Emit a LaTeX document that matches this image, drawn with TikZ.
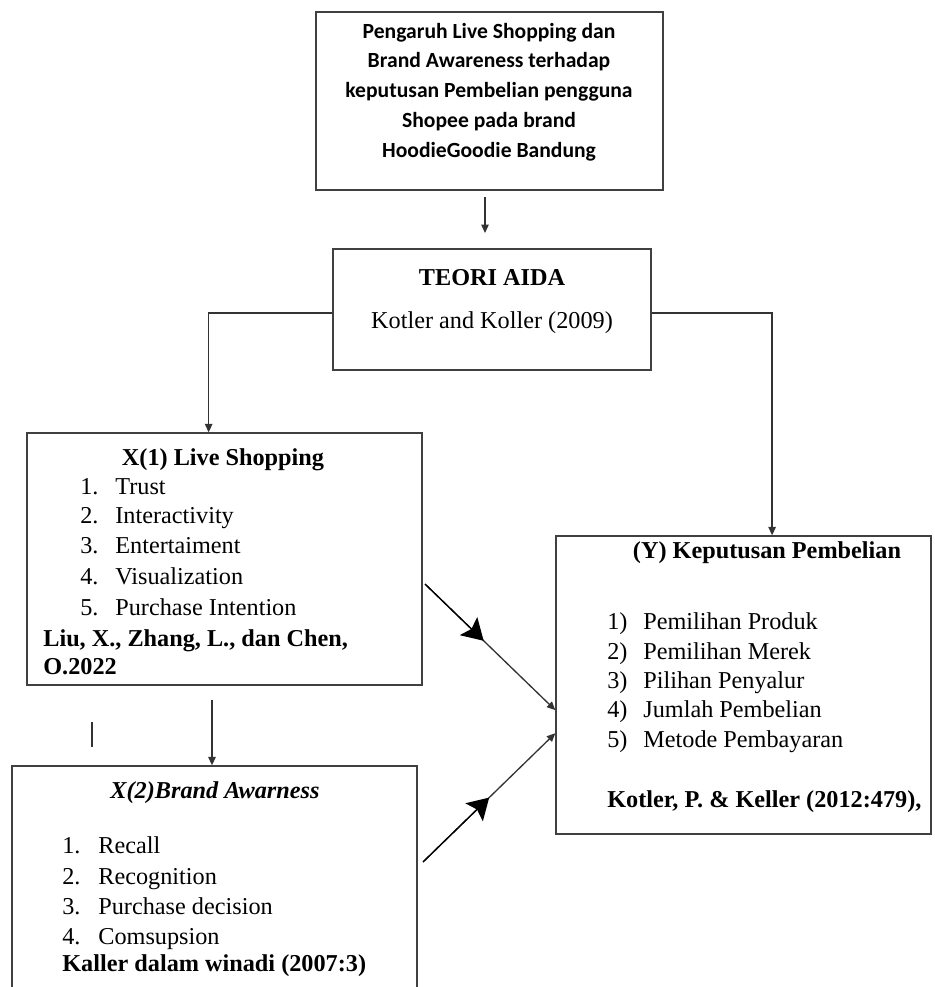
\documentclass[tikz,border=0pt]{standalone}
\usepackage{fontspec}
\setmainfont{Liberation Serif}
\newfontfamily\calibri{Carlito}
\usetikzlibrary{arrows.meta,positioning,calc}

\tikzset{
  kotak/.style={draw=black!75, line width=0.8pt, inner sep=0pt},
  tulisan/.style={inner sep=0pt, font=\fontsize{13.8}{17}\selectfont},
  tebal/.style={inner sep=0pt, font=\fontsize{13.8}{17}\selectfont\bfseries},
  butir/.style={tulisan, anchor=west, text height=1.6ex, text depth=0.4ex},
  sumber/.style={tebal, anchor=west, text height=1.6ex, text depth=0.4ex},
  panah/.style={draw=black!80, line width=0.75pt, -{Triangle[length=0.17cm,width=0.15cm]}},
  panahbesar/.style={draw=black, line width=0.75pt, -{Stealth[length=0.42cm,width=0.5cm,inset=0.08cm]}},
}

\begin{document}
\begin{tikzpicture}[x=0.02cm, y=-0.02cm]
        \useasboundingbox (0,0) rectangle (934,987);
        % kotak
        \node[kotak, minimum width=6.94cm, minimum height=3.56cm] (judul) at (489.5,101) {};
        \node[kotak, minimum width=6.36cm, minimum height=2.42cm] (aida) at (492,309.5) {};
        \node[kotak, minimum width=7.9cm, minimum height=5.04cm] (live) at (224.5,559) {};
        \node[kotak, minimum width=8.1cm, minimum height=4.88cm] (brand) at (214.5,888) {};
        \node[kotak, minimum width=7.5cm, minimum height=5.96cm] (kep) at (743.5,685) {};
        % judul penelitian
        \node[inner sep=0pt, align=center, font=\calibri\fontsize{12.3}{17}\selectfont\bfseries] (judulteks) at (489,92)
          {Pengaruh Live Shopping dan\\Brand Awareness terhadap\\keputusan Pembelian pengguna\\Shopee pada brand\\HoodieGoodie Bandung};
        % teori
        \node[tebal] (aidateks) at (492,278) {TEORI AIDA};
        \node[tulisan] (aidasumber) at (492,323) {Kotler and Koller (2009)};
        % X1
        \node[tebal] (livejudul) at (223,460) {X(1) Live Shopping};
        \node[butir] (l1n) at (80,490) {1.};
        \node[butir] (l1) at (115,490) {Trust};
        \node[butir] (l2n) at (80,519) {2.};
        \node[butir] (l2) at (115,519) {Interactivity};
        \node[butir] (l3n) at (80,549) {3.};
        \node[butir] (l3) at (115,549) {Entertaiment};
        \node[butir] (l4n) at (80,580) {4.};
        \node[butir] (l4) at (115,580) {Visualization};
        \node[butir] (l5n) at (80,611) {5.};
        \node[butir] (l5) at (115,611) {Purchase Intention};
        \node[sumber] (livesumber1) at (43,642) {Liu, X., Zhang, L., dan Chen,};
        \node[sumber] (livesumber2) at (43,670) {O.2022};
        % X2
        \node[tebal, font=\fontsize{13.8}{17}\selectfont\bfseries\itshape] (brandjudul) at (215,793) {X(2)Brand Awarness};
        \node[butir] (b1n) at (62,849) {1.};
        \node[butir] (b1) at (98,849) {Recall};
        \node[butir] (b2n) at (62,880) {2.};
        \node[butir] (b2) at (98,880) {Recognition};
        \node[butir] (b3n) at (62,910) {3.};
        \node[butir] (b3) at (98,910) {Purchase decision};
        \node[butir] (b4n) at (62,940) {4.};
        \node[butir] (b4) at (98,940) {Comsupsion};
        \node[sumber] (brandsumber) at (62,967) {Kaller dalam winadi (2007:3)};
        % Y
        \node[tebal] (kepjudul) at (767,553) {(Y) Keputusan Pembelian};
        \node[butir] (y1n) at (607,625) {1)};
        \node[butir] (y1) at (643,625) {Pemilihan Produk};
        \node[butir] (y2n) at (607,655) {2)};
        \node[butir] (y2) at (643,655) {Pemilihan Merek};
        \node[butir] (y3n) at (607,684) {3)};
        \node[butir] (y3) at (643,684) {Pilihan Penyalur};
        \node[butir] (y4n) at (607,713) {4)};
        \node[butir] (y4) at (643,713) {Jumlah Pembelian};
        \node[butir] (y5n) at (607,743) {5)};
        \node[butir] (y5) at (643,743) {Metode Pembayaran};
        \node[sumber] (kepsumber) at (607,803) {Kotler, P. \& Keller (2012:479),};
        % panah
        \coordinate (a1) at (485,197);
        \coordinate (a2) at (485,233);
        \draw[panah] (a1) -- (a2);
        \draw[panah] ([yshift=-0.07cm]aida.west) -| ($(live.north west)!0.46!(live.north east)$);
        \draw[panah] ([yshift=-0.07cm]aida.east) -| ($(kep.north west)!0.576!(kep.north east)$);
        \coordinate (b0) at (212,700);
        \draw[panah] (b0) -- (b0 |- brand.north);
        \draw[black!80, line width=0.75pt] (92,722) -- (92,747);
        \coordinate (d1) at (425,584);
        \coordinate (d2) at (423,862);
        \coordinate (k1) at ($(kep.north west)!0.584!(kep.south west)$);
        \coordinate (k2) at ($(kep.north west)!0.661!(kep.south west)$);
        \draw[panah] (d1) -- (k1);
        \draw[panah] (d2) -- (k2);
        \draw[panahbesar] (d1) -- ($(d1)!0.45!(k1)$);
        \draw[panahbesar] (d2) -- ($(d2)!0.5!(k2)$);
      \end{tikzpicture}
\end{document}
